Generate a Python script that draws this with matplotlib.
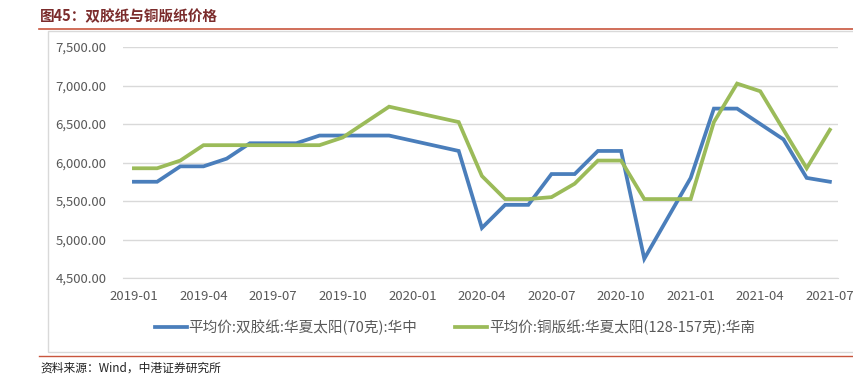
import matplotlib
matplotlib.use('Agg')
import matplotlib.pyplot as plt
from matplotlib.patches import Rectangle
from matplotlib.lines import Line2D
from matplotlib.ticker import FuncFormatter

plt.rcParams['font.family'] = ['Noto Sans CJK SC', 'DejaVu Sans']

# 数据（月度，部分月份缺失）
blue_dates = ['2019-01', '2019-02', '2019-03', '2019-04', '2019-05', '2019-06',
              '2019-07', '2019-08', '2019-09', '2019-10', '2019-11', '2019-12',
              '2020-03', '2020-04', '2020-05', '2020-06', '2020-07', '2020-08',
              '2020-09', '2020-10', '2020-11', '2021-01', '2021-02', '2021-03',
              '2021-04', '2021-05', '2021-06', '2021-07']
blue_vals = [5750, 5750, 5950, 5950, 6050, 6250,
             6250, 6250, 6350, 6350, 6350, 6350,
             6150, 5150, 5450, 5450, 5850, 5850,
             6150, 6150, 4750, 5800, 6700, 6700,
             6500, 6300, 5800, 5750]

green_dates = ['2019-01', '2019-02', '2019-03', '2019-04', '2019-05', '2019-06',
               '2019-07', '2019-08', '2019-09', '2019-10', '2019-12',
               '2020-03', '2020-04', '2020-05', '2020-06', '2020-07', '2020-08',
               '2020-09', '2020-10', '2020-11', '2020-12', '2021-01', '2021-02',
               '2021-03', '2021-04', '2021-06', '2021-07']
green_vals = [5925, 5925, 6025, 6225, 6225, 6225,
              6225, 6225, 6225, 6325, 6725,
              6525, 5825, 5525, 5525, 5550, 5725,
              6025, 6025, 5525, 5525, 5525, 6525,
              7025, 6925, 5925, 6425]

tick_labels = ['2019-01', '2019-04', '2019-07', '2019-10', '2020-01', '2020-04',
               '2020-07', '2020-10', '2021-01', '2021-04', '2021-07']

blue_name = '平均价:双胶纸:华夏太阳(70克):华中'
green_name = '平均价:铜版纸:华夏太阳(128-157克):华南'
title = '图45：双胶纸与铜版纸价格'
source = '资料来源：Wind，中港证券研究所'


def midx(s):
    y, m = s.split('-')
    return (int(y) - 2019) * 12 + int(m) - 1


W, H = 854, 375
fig = plt.figure(figsize=(W / 100, H / 100), dpi=100)

# 外框和红线
fig.patches.append(Rectangle((48 / W, 1 - 352 / H), 1.0, (352 - 31) / H,
                             transform=fig.transFigure, fill=False,
                             edgecolor='#D9D9D9', linewidth=1))
fig.add_artist(Line2D([39 / W, 1], [1 - 28.5 / H] * 2, color='#C8553D', lw=1.2))
fig.add_artist(Line2D([39 / W, 1], [1 - 356 / H] * 2, color='#C8553D', lw=1.0))

fig.text(40 / W, 1 - 16 / H, title, fontsize=10.5, fontweight='bold',
         color='#7B2C2C', va='center', ha='left')
fig.text(40 / W, 1 - 368 / H, source, fontsize=8.5, style='italic',
         color='#222222', va='center', ha='left')

ax = fig.add_axes([123 / W, 1 - 278 / H, (838 - 123) / W, (278 - 47) / H])
ax.plot([midx(d) for d in blue_dates], blue_vals, color='#4A7EBB', lw=2.7,
        label=blue_name, solid_joinstyle='miter')
ax.plot([midx(d) for d in green_dates], green_vals, color='#9BBB59', lw=2.7,
        label=green_name, solid_joinstyle='miter')

ax.set_ylim(4500, 7500)
ax.set_yticks(range(4500, 7501, 500))
ax.yaxis.set_major_formatter(FuncFormatter(lambda v, p: '{:,.2f}'.format(v)))
ax.set_xlim(-0.47, 30.35)
ax.set_xticks([midx(t) for t in tick_labels])
ax.set_xticklabels(tick_labels)

ax.grid(axis='y', color='#D9D9D9', lw=1)
ax.set_axisbelow(True)
for s in ['top', 'right', 'left']:
    ax.spines[s].set_visible(False)
ax.spines['bottom'].set_color('#D9D9D9')
ax.tick_params(length=0, labelsize=9.5, colors='#595959')
ax.tick_params(axis='y', pad=12)
ax.tick_params(axis='x', pad=9)

fig.legend(loc='center', bbox_to_anchor=(455 / W, 1 - 327 / H), ncol=2,
           frameon=False, fontsize=10.5, handlelength=2.2, handletextpad=0.1,
           columnspacing=2.6, labelcolor='#595959')

fig.savefig('out.png', dpi=100)
